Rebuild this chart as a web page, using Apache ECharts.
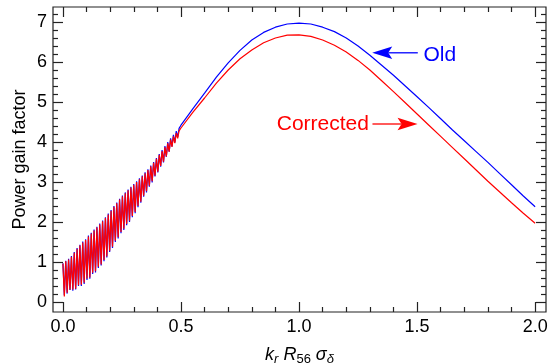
<!DOCTYPE html>
<html><head><meta charset="utf-8">
<script src="https://cdn.jsdelivr.net/npm/echarts@6/dist/echarts.min.js"></script>
<style>html,body{margin:0;padding:0;background:#fff}#c{width:548px;height:364px}</style>
</head><body><div id="c"></div>
<script>
// x positions (k_r R56 sigma_delta)
const xs = [0.000,0.006,0.012,0.018,0.024,0.030,0.036,0.042,0.048,0.054,0.060,0.066,0.072,0.078,0.084,0.090,0.096,0.102,0.108,0.114,
0.120,0.126,0.132,0.138,0.144,0.150,0.156,0.162,0.168,0.174,0.180,0.186,0.192,0.198,0.204,0.210,0.216,0.222,0.228,0.234,
0.240,0.246,0.252,0.258,0.264,0.270,0.276,0.282,0.288,0.294,0.300,0.306,0.312,0.318,0.324,0.330,0.336,0.342,0.348,0.354,
0.360,0.366,0.372,0.378,0.384,0.390,0.396,0.402,0.408,0.414,0.420,0.426,0.432,0.438,0.444,0.450,0.456,0.462,0.468,0.474,
0.480,0.486,0.492,
0.50,0.55,0.60,0.65,0.70,0.75,0.80,0.85,0.90,0.95,1.00,1.05,1.10,1.15,1.20,1.25,1.30,1.35,1.40,1.45,1.50,
1.55,1.60,1.65,1.70,1.75,1.80,1.85,1.90,1.95,2.00];

const oldGain = [0.97,0.17,1.03,0.21,1.08,0.30,1.15,0.28,1.25,0.31,1.35,0.40,1.43,0.40,1.51,0.45,1.57,0.55,1.66,0.58,
1.73,0.70,1.81,0.74,1.88,0.85,1.96,0.91,2.04,1.02,2.12,1.11,2.21,1.25,2.30,1.35,2.40,1.50,2.49,1.59,
2.58,1.72,2.66,1.80,2.74,1.92,2.81,2.00,2.88,2.12,2.95,2.22,3.02,2.37,3.09,2.48,3.16,2.63,3.24,2.74,
3.32,2.88,3.41,2.99,3.50,3.14,3.60,3.24,3.70,3.38,3.80,3.49,3.90,3.63,4.00,3.76,4.09,3.89,4.18,3.99,
4.27,4.12,4.34,
4.42,4.83,5.22,5.62,5.98,6.29,6.55,6.74,6.87,6.95,6.97,6.95,6.87,6.76,6.60,6.40,6.17,5.92,5.67,5.40,5.13,
4.86,4.58,4.30,4.03,3.76,3.49,3.21,2.93,2.65,2.38];

const correctedGain = [0.96,0.14,1.02,0.23,1.06,0.31,1.13,0.31,1.23,0.33,1.33,0.42,1.41,0.43,1.49,0.48,1.55,0.58,1.64,0.61,
1.71,0.73,1.79,0.77,1.86,0.88,1.94,0.94,2.02,1.05,2.10,1.14,2.19,1.28,2.28,1.38,2.38,1.53,2.47,1.62,
2.56,1.75,2.64,1.83,2.72,1.95,2.79,2.03,2.86,2.15,2.93,2.25,3.00,2.40,3.07,2.51,3.14,2.66,3.22,2.77,
3.30,2.91,3.39,3.02,3.48,3.16,3.58,3.26,3.68,3.40,3.77,3.51,3.87,3.64,3.97,3.76,4.06,3.88,4.14,3.97,
4.22,4.09,4.28,
4.35,4.74,5.10,5.47,5.80,6.08,6.30,6.48,6.60,6.67,6.68,6.64,6.55,6.42,6.25,6.04,5.80,5.53,5.26,4.98,4.70,
4.42,4.14,3.86,3.58,3.30,3.02,2.75,2.48,2.22,1.97];

const xMajorTicks = [0, 0.5, 1.0, 1.5, 2.0];
const xMinorTicks = [0.1,0.2,0.3,0.4,0.6,0.7,0.8,0.9,1.1,1.2,1.3,1.4,1.6,1.7,1.8,1.9];
const yMajorTicks = [0,1,2,3,4,5,6,7];
const yMinorTicks = [0.2,0.4,0.6,0.8,1.2,1.4,1.6,1.8,2.2,2.4,2.6,2.8,3.2,3.4,3.6,3.8,4.2,4.4,4.6,4.8,
5.2,5.4,5.6,5.8,6.2,6.4,6.6,6.8,7.2];
const xRange = [-0.042, 2.046];
const yRange = [-0.25, 7.375];

const seriesNames = ['Old', 'Corrected'];
// annotation anchors in data coordinates
const oldLabelAt = [1.527, 6.18];
const oldArrowFrom = [1.503, 6.23];
const oldArrowTo = [1.310, 6.23];
const corrLabelAt = [1.296, 4.45];
const corrArrowFrom = [1.311, 4.45];
const corrArrowTo = [1.502, 4.45];

const FONT = '"Liberation Sans", Arial, Helvetica, sans-serif';
const AX = '#222';

function xAxis(pos, ticks, len, withLabels) {
  const a = {
    type: 'value', position: pos, min: xRange[0], max: xRange[1],
    axisLine: {show: false, onZero: false}, splitLine: {show: false},
    axisTick: {show: true, inside: true, length: len, customValues: ticks, lineStyle: {color: AX, width: 1.2}},
    axisLabel: withLabels ? {show: true, customValues: ticks, margin: 6, fontSize: 18, color: '#000', fontFamily: FONT,
      formatter: v => v.toFixed(1)} : {show: false}
  };
  if (withLabels) {
    a.name = '{i|k}{si|r} {i|R}{s|56} {i|σ}{si|δ}';
    a.nameLocation = 'middle';
    a.nameGap = 32;
    a.nameMoveOverlap = false;
    a.nameTextStyle = {
      fontFamily: FONT, color: '#000', fontSize: 18, lineHeight: 22,
      rich: {
        i: {fontStyle: 'italic', fontSize: 18, lineHeight: 22, fontFamily: FONT, color: '#000'},
        si: {fontStyle: 'italic', fontSize: 13, lineHeight: 13, verticalAlign: 'bottom', fontFamily: FONT, color: '#000'},
        s: {fontSize: 13, lineHeight: 13, verticalAlign: 'bottom', fontFamily: FONT, color: '#000'}
      }
    };
  }
  return a;
}
function yAxis(pos, ticks, len, withLabels) {
  const a = {
    type: 'value', position: pos, min: yRange[0], max: yRange[1],
    axisLine: {show: false, onZero: false}, splitLine: {show: false},
    axisTick: {show: true, inside: true, length: len, customValues: ticks, lineStyle: {color: AX, width: 1.2}},
    axisLabel: withLabels ? {show: true, customValues: ticks, margin: 6, fontSize: 18, color: '#000', fontFamily: FONT} : {show: false}
  };
  if (withLabels) {
    a.name = 'Power gain factor';
    a.nameLocation = 'middle';
    a.nameGap = 24;
    a.nameMoveOverlap = false;
    a.nameTextStyle = {fontFamily: FONT, fontSize: 18, color: '#000'};
  }
  return a;
}

const chart = echarts.init(document.getElementById('c'), null, {renderer: 'canvas'});
const option = {
  animation: false,
  backgroundColor: '#fff',
  grid: {left: 53, right: 2, top: 7, bottom: 52, show: true, borderColor: AX, borderWidth: 1.2, backgroundColor: 'transparent',
         containLabel: false, outerBoundsMode: 'none'},
  xAxis: [xAxis('bottom', xMajorTicks, 10, true), xAxis('bottom', xMinorTicks, 5, false),
          xAxis('top', xMajorTicks, 10, false), xAxis('top', xMinorTicks, 5, false)],
  yAxis: [yAxis('left', yMajorTicks, 10, true), yAxis('left', yMinorTicks, 5, false),
          yAxis('right', yMajorTicks, 10, false), yAxis('right', yMinorTicks, 5, false)],
  series: [
    {name: seriesNames[0], type: 'line', xAxisIndex: 0, yAxisIndex: 0, showSymbol: false, symbol: 'none',
     lineStyle: {color: '#0000ff', width: 1.2}, data: xs.map((x, i) => [x, oldGain[i]])},
    {name: seriesNames[1], type: 'line', xAxisIndex: 0, yAxisIndex: 0, showSymbol: false, symbol: 'none',
     lineStyle: {color: '#ff0000', width: 1.2}, data: xs.map((x, i) => [x, correctedGain[i]])}
  ]
};
chart.setOption(option);

function px(p) { return chart.convertToPixel({xAxisIndex: 0, yAxisIndex: 0}, p); }
function arrow(from, to, color) {
  const a = px(from), b = px(to);
  const d = b[0] > a[0] ? 1 : -1;
  const L = 20, W = 6.3, ind = 4;
  return [
    {type: 'line', silent: true, z: 10, shape: {x1: a[0], y1: a[1], x2: b[0] - d * (L - ind), y2: b[1]},
     style: {stroke: color, lineWidth: 1.3}},
    {type: 'polygon', silent: true, z: 10, shape: {points: [[b[0], b[1]], [b[0] - d * L, b[1] - W], [b[0] - d * (L - ind), b[1]], [b[0] - d * L, b[1] + W]]},
     style: {fill: color}}
  ];
}
const ol = px(oldLabelAt), cl = px(corrLabelAt);
chart.setOption({
  graphic: [
    {type: 'text', silent: true, z: 10, x: ol[0], y: ol[1], style: {text: seriesNames[0], fill: '#0000ff', fontSize: 21, fontFamily: FONT, align: 'left', verticalAlign: 'middle'}},
    {type: 'text', silent: true, z: 10, x: cl[0], y: cl[1], style: {text: seriesNames[1], fill: '#ff0000', fontSize: 21, fontFamily: FONT, align: 'right', verticalAlign: 'middle'}},
    ...arrow(oldArrowFrom, oldArrowTo, '#0000ff'),
    ...arrow(corrArrowFrom, corrArrowTo, '#ff0000')
  ]
});
</script></body></html>
